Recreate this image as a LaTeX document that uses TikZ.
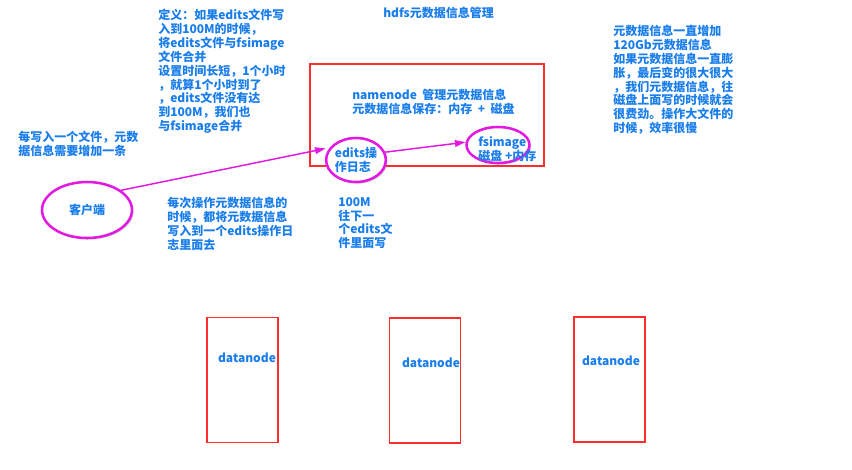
\documentclass[tikz,border=0pt]{standalone}
\usepackage{fontspec}
\setmainfont{Noto Sans CJK SC}
\usepackage{tikz}
\usetikzlibrary{arrows.meta,shapes.geometric,shadows}

\definecolor{txtblue}{RGB}{25,125,235}
\definecolor{ovalmag}{RGB}{225,25,225}
\definecolor{boxred}{RGB}{255,45,45}
\newcommand\txtfont{\fontsize{9}{10.4}\selectfont\bfseries}

\begin{document}
\begin{tikzpicture}[x=0.75pt,y=-0.75pt]
\useasboundingbox (0,0) rectangle (852,469);

\begin{scope}[every node/.style={rectangle,draw=boxred,line width=1.1pt}]
    \node[minimum width=175.5pt,minimum height=76.5pt] (nn) at (427,115) {};
    \node[minimum width=53.25pt,minimum height=93.75pt] (dn1) at (242.5,380) {};
    \node[minimum width=53.25pt,minimum height=93.75pt] (dn2) at (425,380.5) {};
    \node[minimum width=53.25pt,minimum height=93.75pt] (dn3) at (609.5,379.5) {};
\end{scope}

\begin{scope}[every node/.style={ellipse,draw=ovalmag,line width=1.9pt,fill=white,
              drop shadow={opacity=0.35,shadow xshift=1.2pt,shadow yshift=-1.2pt},
              text=txtblue,font=\txtfont,align=left,inner sep=0pt}]
    \node[minimum width=67.5pt,minimum height=42pt] (client) at (87,210) {客户端};
    \node[minimum width=43.5pt,minimum height=33pt] (edits) at (356,160) {edits操\\作日志};
    \node[minimum width=47.25pt,minimum height=27pt] (fsimage) at (498,145) {};
\end{scope}

\begin{scope}[every node/.style={text=txtblue,font=\txtfont,align=left,inner sep=0pt,anchor=north west}]
    \node (title) at (383,7) {hdfs元数据信息管理};
    \node (merge) at (158,9) {定义：如果edits文件写\\入到100M的时候，\\将edits文件与fsimage\\文件合并\\设置时间长短，1个小时\\，就算1个小时到了\\，edits文件没有达\\到100M，我们也\\与fsimage合并};
    \node (perfile) at (18,131) {每写入一个文件，元数\\据信息需要增加一条};
    \node (peredit) at (167,197) {每次操作元数据信息的\\时候，都将元数据信息\\写入到一个edits操作日\\志里面去};
    \node (roll) at (338,197) {100M\\往下一\\个edits文\\件里面写};
    \node (grow) at (613,25) {元数据信息一直增加\\120Gb元数据信息\\如果元数据信息一直膨\\胀，最后变的很大很大\\，我们元数据信息，往\\磁盘上面写的时候就会\\很费劲。操作大文件的\\时候，效率很慢};
    \node (nntxt) at (352,89) {namenode\ \ 管理元数据信息\\元数据信息保存：内存\ \ +\ \ 磁盘};
    \node (fstxt) at (478,136) {fsimage\\磁盘 +内存};
    \node[anchor=center] (dn1txt) at (247,358) {datanode};
    \node[anchor=center] (dn2txt) at (431,363) {datanode};
    \node[anchor=center] (dn3txt) at (611,361) {datanode};
\end{scope}

\begin{scope}[>={Triangle[length=8pt,width=5pt]},
              every edge/.style={draw=ovalmag,line width=1.1pt}]
    \path [->] (client.30) edge[shorten >=3pt] (edits.155);
    \path [->] (edits.15) edge (fsimage.175);
\end{scope}
\end{tikzpicture}
\end{document}
